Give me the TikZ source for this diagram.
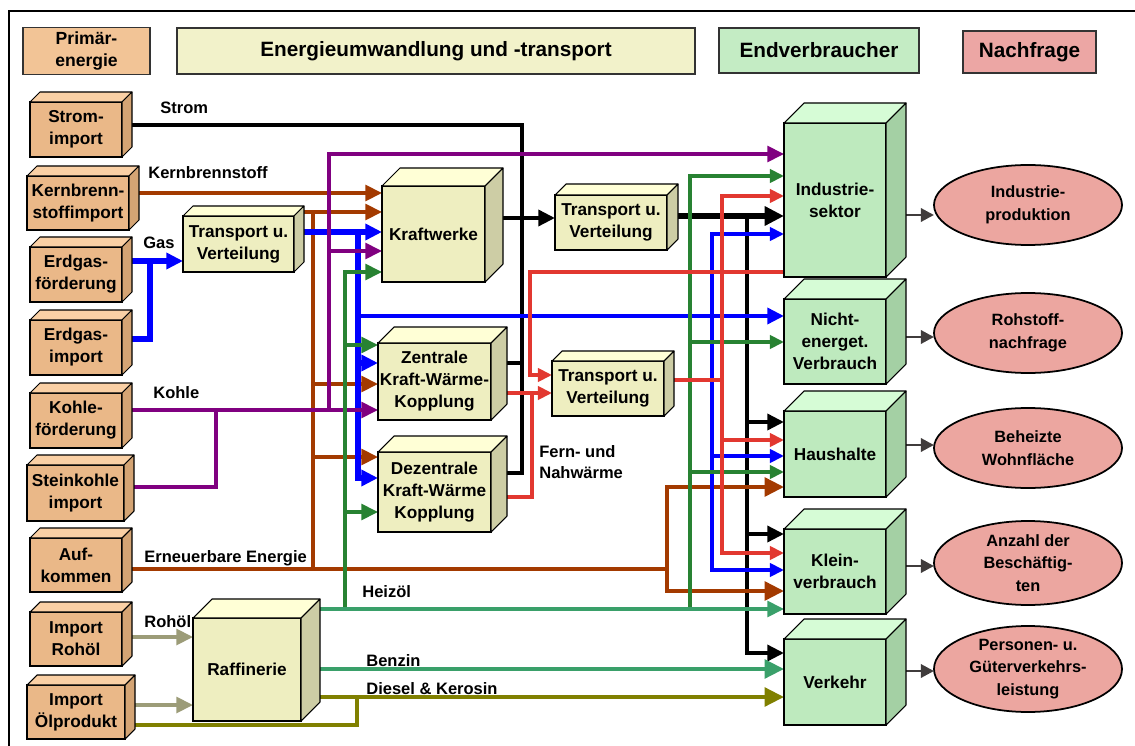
\documentclass[tikz,border=0pt]{standalone}
\usepackage{fontspec}
\setmainfont{Liberation Sans}
\usetikzlibrary{arrows.meta,shapes.geometric}
\pgfdeclarelayer{bg}
\pgfsetlayers{bg,main}
\definecolor{tanfront}{RGB}{234,184,136}
\definecolor{tantop}{RGB}{250,208,165}
\definecolor{tanside}{RGB}{212,164,116}
\definecolor{yelfront}{RGB}{238,238,192}
\definecolor{yeltop}{RGB}{255,255,214}
\definecolor{yelside}{RGB}{205,205,165}
\definecolor{grnfront}{RGB}{190,234,190}
\definecolor{grntop}{RGB}{214,252,214}
\definecolor{grnside}{RGB}{164,208,164}
\definecolor{ellfill}{RGB}{236,166,160}
\definecolor{hdprim}{RGB}{242,196,150}
\definecolor{hdener}{RGB}{242,242,202}
\definecolor{hdend}{RGB}{196,236,196}
\definecolor{hdnach}{RGB}{236,166,164}
\definecolor{cbrown}{RGB}{163,58,0}
\definecolor{cblue}{RGB}{0,0,255}
\definecolor{cpurple}{RGB}{128,0,128}
\definecolor{cgreen}{RGB}{40,130,50}
\definecolor{csea}{RGB}{58,160,106}
\definecolor{colive}{RGB}{128,128,0}
\definecolor{cgray}{RGB}{156,156,120}
\definecolor{cred}{RGB}{226,56,48}
\definecolor{cdark}{RGB}{64,60,60}
\newcommand{\cubebox}[8]{%
  \node[cubefront, fill=#7front, minimum width=#4*0.02cm, minimum height=#5*0.02cm] (#1) at (#2,#3) {#8};
  \filldraw[cubeedge, fill=#7top] (#1.north west) -- ([shift={(#6,-#6)}]#1.north west) -- ([shift={(#6,-#6)}]#1.north east) -- (#1.north east) -- cycle;
  \filldraw[cubeedge, fill=#7side] (#1.north east) -- ([shift={(#6,-#6)}]#1.north east) -- ([shift={(#6,-#6)}]#1.south east) -- (#1.south east) -- cycle;
}
\begin{document}
\begin{tikzpicture}[x=0.02cm,y=-0.02cm,
  cubefront/.style={draw=black, line width=0.6pt, rectangle, inner sep=1pt, outer sep=0pt, align=center, font=\bfseries\fontsize{9.8}{12.5}\selectfont},
  cubeedge/.style={draw=black, line width=0.6pt, line join=round},
  hdr/.style={draw=black!80, line width=0.6pt, rectangle, inner sep=1pt, outer sep=0pt, align=center, font=\bfseries\fontsize{11.8}{14}\selectfont},
  ell/.style={draw=black, line width=1pt, ellipse, fill=ellfill, inner sep=0pt, outer sep=0pt, minimum width=188*0.02cm, minimum height=80*0.02cm},
  elltext/.style={align=center, inner sep=0pt, font=\bfseries\fontsize{9.3}{13}\selectfont},
  lbl/.style={anchor=west, inner sep=0pt, font=\bfseries\fontsize{9.4}{12}\selectfont},
  ah/.style={-{Triangle[length=9.5pt,width=9pt]}},
  ahs/.style={-{Triangle[length=8pt,width=7.5pt]}},
  ahb/.style={-{Triangle[length=11pt,width=10.5pt]}},
  ahss/.style={{Triangle[length=8pt,width=7.5pt]}-{Triangle[length=8pt,width=7.5pt]}},
  blk/.style={draw=black, line width=2.3pt},
  brn/.style={draw=cbrown, line width=2.1pt},
  blu/.style={draw=cblue, line width=2.9pt},
  blu2/.style={draw=cblue, line width=2.3pt},
  pur/.style={draw=cpurple, line width=2pt},
  grn/.style={draw=cgreen, line width=2pt},
  sea/.style={draw=csea, line width=2pt},
  oli/.style={draw=colive, line width=2.3pt},
  gry/.style={draw=cgray, line width=2.1pt},
  rd/.style={draw=cred, line width=2.1pt},
  dg/.style={draw=cdark, line width=1.7pt, -{Triangle[length=7.5pt,width=7.5pt]}}
]
\useasboundingbox (0,0) rectangle (1135,746);
\clip (0,0) rectangle (1135,746);
% frame
\draw[line width=1.2pt] (9,780) -- (9,11) -- (1160,11);

% headers
\node[hdr, fill=hdprim, minimum width=127*0.02cm, minimum height=47*0.02cm, font=\bfseries\fontsize{10}{12}\selectfont] (hprim) at (86.5,51) {Primär-\\energie};
\node[hdr, fill=hdener, minimum width=518*0.02cm, minimum height=46*0.02cm] (hener) at (436,51) {Energieumwandlung und -transport};
\node[hdr, fill=hdend, minimum width=200*0.02cm, minimum height=45*0.02cm] (hend) at (819,50.5) {Endverbraucher};
\node[hdr, fill=hdnach, minimum width=133*0.02cm, minimum height=42*0.02cm] (hnach) at (1029.5,52) {Nachfrage};

% primary energy boxes
\cubebox{strom}{76}{129.5}{92}{55}{10}{tan}{Strom-\\import}
\cubebox{kern}{78}{203}{102}{54}{10}{tan}{Kernbrenn-\\stoffimport}
\cubebox{erdf}{76}{274.5}{92}{55}{10}{tan}{Erdgas-\\förderung}
\cubebox{erdi}{76}{347.5}{92}{55}{10}{tan}{Erdgas-\\import}
\cubebox{kohle}{76}{420.5}{92}{55}{10}{tan}{Kohle-\\förderung}
\cubebox{stein}{75.5}{493}{97}{56}{10}{tan}{Steinkohle\\import}
\cubebox{auf}{76}{565}{92}{54}{10}{tan}{Auf-\\kommen}
\cubebox{rohoel}{76}{639}{92}{54}{10}{tan}{Import\\Rohöl}
\cubebox{oelp}{76}{712}{98}{54}{10}{tan}{Import\\Ölprodukt}

% conversion boxes
\cubebox{tvg}{238.5}{244}{111}{56}{10}{yel}{Transport u.\\Verteilung}
\cubebox{kw}{433.5}{234}{103}{96}{18}{yel}{Kraftwerke}
\cubebox{tvs}{611}{222.5}{112}{55}{11}{yel}{Transport u.\\Verteilung}
\cubebox{zkwk}{434.5}{381.5}{113}{77}{16}{yel}{Zentrale\\Kraft-Wärme-\\Kopplung}
\cubebox{dkwk}{434.5}{492}{113}{80}{16}{yel}{Dezentrale\\Kraft-Wärme\\Kopplung}
\cubebox{tvw}{608}{388.5}{112}{55}{10}{yel}{Transport u.\\Verteilung}
\cubebox{raf}{247}{669.5}{108}{103}{19}{yel}{Raffinerie}

% end users
\cubebox{ind}{835}{200}{102}{154}{20}{grn}{Industrie-\\sektor}
\cubebox{nicht}{835}{341.5}{102}{85}{20}{grn}{Nicht-\\energet.\\Verbrauch}
\cubebox{haus}{835}{454}{102}{86}{20}{grn}{Haushalte}
\cubebox{klein}{835}{571.5}{102}{85}{20}{grn}{Klein-\\verbrauch}
\cubebox{verk}{835}{682}{102}{86}{20}{grn}{Verkehr}

% demand ellipses
\node[ell] (iprod) at (1028,205) {};
\node[elltext] (iprodt) at (iprod) {Industrie-\\produktion};
\node[ell] (rohn) at (1028,333) {};
\node[elltext] (rohnt) at (rohn) {Rohstoff-\\nachfrage};
\node[ell] (wohn) at (1028,448) {};
\node[elltext] (wohnt) at (wohn) {Beheizte\\Wohnfläche};
\node[ell, minimum height=84*0.02cm] (besch) at (1028,563) {};
\node[elltext] (bescht) at (besch) {Anzahl der\\Beschäftig-\\ten};
\node[ell, minimum height=86*0.02cm] (verkl) at (1028,669) {};
\node[elltext] (verklt) at (verkl) {Personen- u.\\Güterverkehrs-\\leistung};

% flow labels
\node[lbl] (lstrom) at (160,108) {Strom};
\node[lbl] (lkern) at (148,173) {Kernbrennstoff};
\node[lbl] (lgas) at (143,243) {Gas};
\node[lbl] (lkohle) at (153,393) {Kohle};
\node[lbl] (lee) at (144,558) {Erneuerbare Energie};
\node[lbl] (lheiz) at (362,592) {Heizöl};
\node[lbl] (lroh) at (144,622) {Rohöl};
\node[lbl] (lbenz) at (366,661) {Benzin};
\node[lbl] (ldies) at (366,689) {Diesel \& Kerosin};
\node[lbl, align=left] (lfern) at (539,462) {Fern- und\\Nahwärme};

\begin{pgfonlayer}{bg}
% black: electricity
\draw[blk] (strom.east|-0,125) -- (522,125) -- (522,473) -- (dkwk.east|-0,473);
\draw[blk] (zkwk.east|-0,363) -- (522,363);
\draw[blk,ah] (kw.east|-0,218) -- (tvs.west|-0,218);
\draw[blk,line width=2.9pt,ahb] (tvs.east|-0,216) -- (ind.west|-0,216);
\draw[blk,ah] (747,216) -- (747,653) -- (verk.west|-0,653);
\draw[blk,ah] (747,422) -- (haus.west|-0,422);
\draw[blk,ah] (747,534) -- (klein.west|-0,534);
% brown: nuclear / renewables
\draw[brn,ah] (kern.east|-0,193) -- (kw.west|-0,193);
\draw[brn,ah] (tvg.east|-0,212) -- (kw.west|-0,212);
\draw[brn] (313,212) -- (313,569);
\draw[brn,ah] (313,384) -- (zkwk.west|-0,384);
\draw[brn,ah] (313,457) -- (dkwk.west|-0,457);
\draw[brn] (auf.east|-0,569) -- (667,569);
\draw[brn,line width=2.4pt,ahb] (667,569) -- (667,487) -- (haus.west|-0,487);
\draw[brn,line width=2.4pt,ahb] (667,569) -- (667,591) -- (klein.west|-0,591);
% blue: gas
\draw[blu,ah] (erdf.east|-0,261) -- (tvg.west|-0,261);
\draw[blu] (erdi.east|-0,339) -- (150,339) -- (150,261);
\draw[blu,ah] (tvg.east|-0,232) -- (kw.west|-0,232);
\draw[blu] (358,232) -- (358,481);
\draw[blu,ah] (358,363) -- (zkwk.west|-0,363);
\draw[blu,ah] (358,478) -- (dkwk.west|-0,478);
\draw[blu2,ah] (358,316) -- (nicht.west|-0,316);
\draw[blu2,ahss] (ind.west|-0,234) -- (712,234) -- (712,570) -- (klein.west|-0,570);
\draw[blu2,ahs] (712,456) -- (haus.west|-0,456);
% purple: coal
\draw[pur,ah] (kohle.east|-0,410) -- (zkwk.west|-0,410);
\draw[pur] (stein.east|-0,487) -- (216,487) -- (216,410);
\draw[pur,ah] (329,410) -- (329,154) -- (ind.west|-0,154);
\draw[pur,ah] (329,251) -- (kw.west|-0,251);
% green: heating oil branches
\draw[grn,ah] (345,609) -- (345,272) -- (kw.west|-0,272);
\draw[grn,ah] (345,345) -- (zkwk.west|-0,345);
\draw[grn,ah] (345,512) -- (dkwk.west|-0,512);
\draw[grn,ahs] (690,609) -- (690,176) -- (ind.west|-0,176);
\draw[grn,ahs] (690,342) -- (nicht.west|-0,342);
\draw[grn,ahs] (690,472) -- (haus.west|-0,472);
% refinery products
\draw[sea,ah] (raf.east|-0,609) -- (klein.west|-0,609);
\draw[sea,line width=2.3pt,ahb] (raf.east|-0,669) -- (verk.west|-0,669);
\draw[oli,ahb] (raf.east|-0,697) -- (verk.west|-0,697);
\draw[oli] (oelp.east|-0,725) -- (357,725) -- (357,697);
\draw[gry,ah] (rohoel.east|-0,637) -- (raf.west|-0,637);
\draw[gry,ah] (oelp.east|-0,705) -- (raf.west|-0,705);
% red: heat
\draw[rd,ahs] (ind.west|-0,272) -- (530,272) -- (530,375) -- (tvw.west|-0,375);
\draw[rd,line width=2.7pt,ahs] (zkwk.east|-0,393) -- (tvw.west|-0,393);
\draw[rd,line width=2.7pt] (dkwk.east|-0,497) -- (532,497) -- (532,393);
\draw[rd] (tvw.east|-0,380) -- (722,380);
\draw[rd,ahss] (ind.west|-0,196) -- (722,196) -- (722,553) -- (klein.west|-0,553);
\draw[rd,ahs] (722,440) -- (haus.west|-0,440);
% demand arrows
\draw[dg] (ind.east|-0,215) -- (iprod.west|-0,215);
\draw[dg] (nicht.east|-0,337) -- (rohn.west|-0,337);
\draw[dg] (haus.east|-0,445) -- (wohn.west|-0,445);
\draw[dg] (klein.east|-0,566) -- (besch.west|-0,566);
\draw[dg] (verk.east|-0,671) -- (verkl.west|-0,671);
\end{pgfonlayer}
\end{tikzpicture}
\end{document}
